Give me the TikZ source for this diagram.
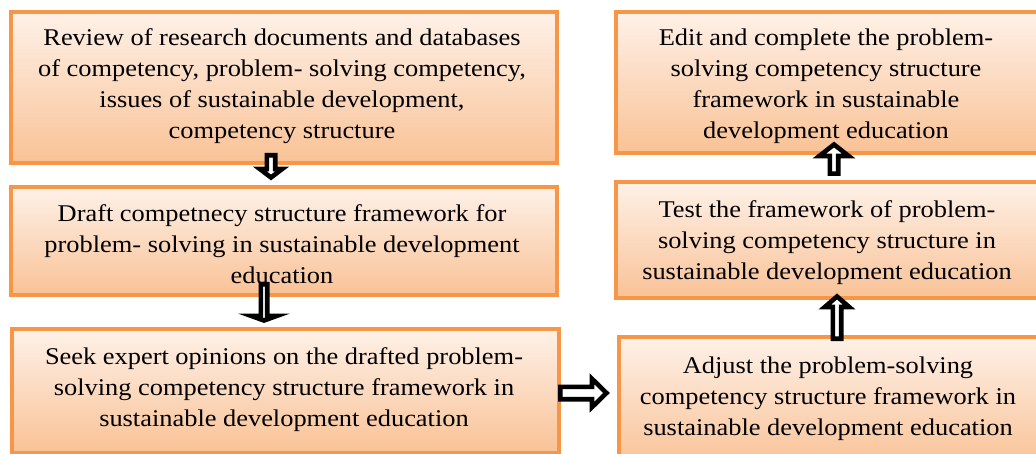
\documentclass[tikz,border=0pt]{standalone}
\usepackage{fontspec}
\usepackage{graphicx}
\setmainfont{Liberation Serif}
\definecolor{boxborder}{HTML}{F79646}
\definecolor{boxtop}{HTML}{FEF1E8}
\definecolor{boxbot}{HTML}{F9C296}
\newcommand{\wtext}[1]{\fontsize{24}{31}\selectfont\scalebox{1.1}[1]{\begin{tabular}{@{}c@{}}#1\end{tabular}}}
\tikzset{
  box/.style={draw=boxborder, line width=4pt, top color=boxtop, bottom color=boxbot, rectangle, anchor=north west, inner sep=0pt},
  boxtext/.style={align=center, text=black, inner sep=0pt},
  blockarr/.style={draw=black, fill=white, line width=4.6pt, line join=miter}
}
\begin{document}
\begin{tikzpicture}[x=1pt,y=-1pt]
\useasboundingbox (0,0) rectangle (1036,454);
\clip (0,0) rectangle (1036,454);
% boxes
\node[box, minimum width=546pt, minimum height=151pt] (b1) at (9,10) {};
\node[box, minimum width=546pt, minimum height=108pt] (b2) at (9,185) {};
\node[box, minimum width=547pt, minimum height=124pt] (b3) at (10,327) {};
\node[box, minimum width=430pt, minimum height=141pt] (b4) at (614,10) {};
\node[box, minimum width=430pt, minimum height=116pt] (b5) at (614,180) {};
\node[box, minimum width=427pt, minimum height=130pt] (b6) at (617,335) {};
% texts
\node[boxtext] (t1) at (282,86) {\wtext{Review of research documents and databases\\of competency, problem- solving competency,\\issues of sustainable development,\\competency structure}};
\node[boxtext] (t2) at (282,246) {\wtext{Draft competnecy structure framework for\\problem- solving in sustainable development\\education}};
\node[boxtext] (t3) at (284,389) {\wtext{Seek expert opinions on the drafted problem-\\solving competency structure framework in\\sustainable development education}};
\node[boxtext] (t4) at (826,86) {\wtext{Edit and complete the problem-\\solving competency structure\\framework in sustainable\\development education}};
\node[boxtext] (t5) at (827,242) {\wtext{Test the framework of problem-\\solving competency structure in\\sustainable development education}};
\node[boxtext] (t6) at (828,398) {\wtext{Adjust the problem-solving\\competency structure framework in\\sustainable development education}};
% block arrows
\draw[blockarr] (266.8,155.3) -- (275.2,155.3) -- (275.2,169) -- (282.2,169) -- (271,177.5) -- (259.8,169) -- (266.8,169) -- cycle;
\draw[blockarr] (260.8,284.3) -- (267.2,284.3) -- (267.2,316) -- (276.5,316) -- (264,320.5) -- (251.5,316) -- (260.8,316) -- cycle;
\draw[blockarr] (560.3,386.8) -- (592,386.8) -- (592,378.8) -- (606.5,393) -- (592,407.2) -- (592,399.2) -- (560.3,399.2) -- cycle;
\draw[blockarr] (832.8,338.7) -- (841.2,338.7) -- (841.2,307) -- (849.2,307) -- (837,296.5) -- (824.8,307) -- (832.8,307) -- cycle;
\draw[blockarr] (829.8,173.7) -- (838.2,173.7) -- (838.2,156) -- (848.7,156) -- (834,144.5) -- (819.3,156) -- (829.8,156) -- cycle;
\end{tikzpicture}
\end{document}
